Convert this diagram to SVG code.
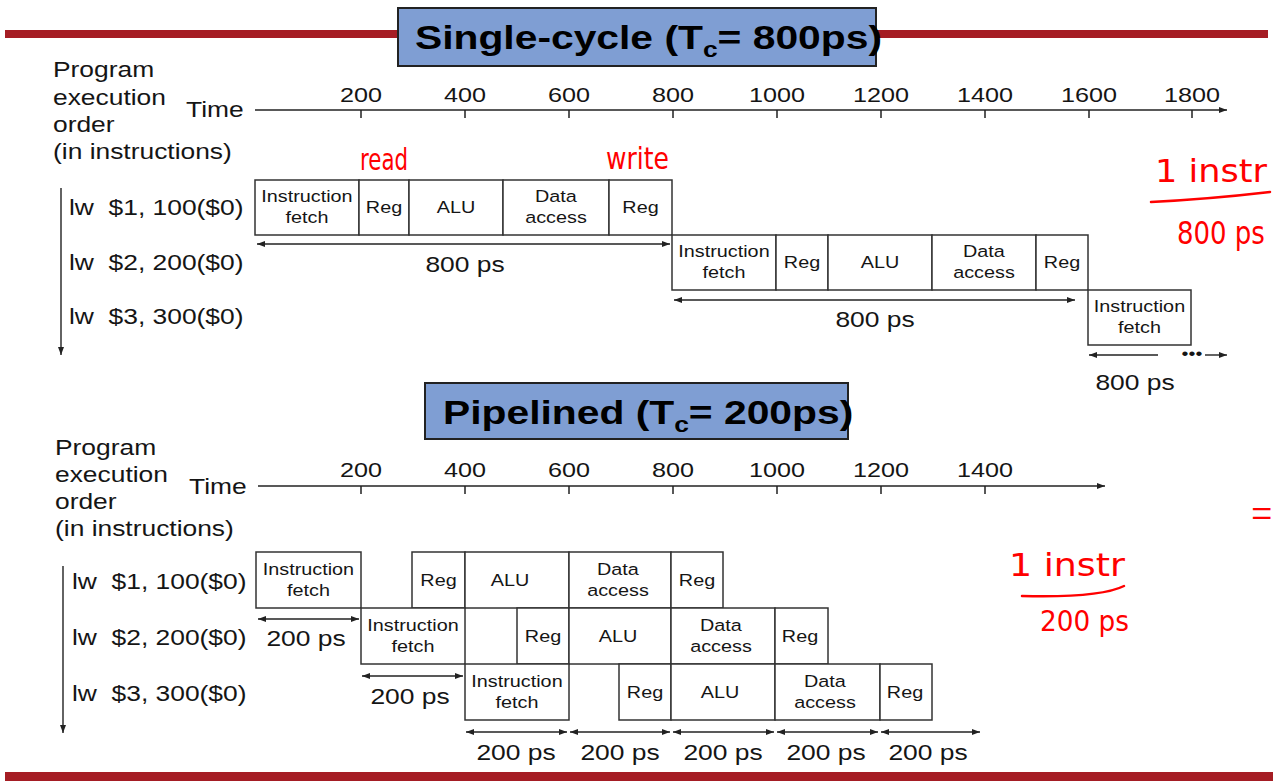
<svg xmlns="http://www.w3.org/2000/svg" width="1273" height="781" viewBox="0 0 1273 781">
<defs>
<marker id="ah" markerUnits="userSpaceOnUse" markerWidth="10" markerHeight="8" refX="8" refY="3.5" orient="auto-start-reverse"><path d="M0,0.5 L8,3.5 L0,6.5 z" fill="#222"/></marker>
<style>
.lbl{font-family:"Liberation Sans",Arial,Helvetica,sans-serif;font-size:22px;fill:#151515;transform-box:fill-box;transform:scaleX(1.2);transform-origin:left center}
.mid{text-anchor:middle;transform-origin:center}
.num{font-family:"Liberation Sans",Arial,Helvetica,sans-serif;font-size:21px;fill:#151515;text-anchor:middle;transform-box:fill-box;transform:scaleX(1.2);transform-origin:center}
.bt{font-family:"Liberation Sans",Arial,Helvetica,sans-serif;font-size:16.5px;fill:#151515;text-anchor:middle;transform-box:fill-box;transform:scaleX(1.2);transform-origin:center}
.ttl{font-family:"Liberation Sans",Arial,Helvetica,sans-serif;font-size:34px;font-weight:bold;fill:#000;transform-box:fill-box;transform:scaleX(1.2);transform-origin:left center}
.box{fill:#fff;stroke:#333;stroke-width:1.5}
.tbox{fill:#7f9ed3;stroke:#222;stroke-width:2}
.bar{fill:#a51d24}
.ax{stroke:#222;stroke-width:1.5;fill:none}
.arr{stroke:#222;stroke-width:1.4;fill:none;marker-end:url(#ah)}
.darr{stroke:#222;stroke-width:1.4;fill:none;marker-start:url(#ah);marker-end:url(#ah)}
.hw{font-family:"DejaVu Sans","Liberation Sans",sans-serif;fill:#f00}
.hl{stroke:#f00;stroke-width:2.5;fill:none;stroke-linecap:round}
</style>
</defs>
<rect width="1273" height="781" fill="#fff"/>

<!-- bars -->
<rect class="bar" x="5" y="30" width="394" height="8"/>
<rect class="bar" x="876" y="30" width="392" height="8"/>
<rect class="bar" x="5" y="772" width="1268" height="9"/>

<!-- titles -->
<g id="title-single">
<rect class="tbox" x="398" y="8" width="478" height="58"/>
<text class="ttl" x="415" y="49">Single-cycle (T<tspan font-size="22" dy="8">c</tspan><tspan dy="-8">= 800ps)</tspan></text>
</g>
<g id="title-pipe">
<rect class="tbox" x="425" y="383" width="423" height="56"/>
<text class="ttl" x="443" y="424">Pipelined (T<tspan font-size="22" dy="8">c</tspan><tspan dy="-8">= 200ps)</tspan></text>
</g>

<!-- top labels -->
<g id="sc-order">
<text class="lbl" x="53" y="77">Program</text>
<text class="lbl" x="53" y="105">execution</text>
<text class="lbl" x="53" y="132">order</text>
<text class="lbl" x="53" y="159">(in instructions)</text>
<text class="lbl" x="186" y="117">Time</text>
</g>
<g id="sc-axis-labels">
<text class="num" x="361" y="102">200</text>
<text class="num" x="465" y="102">400</text>
<text class="num" x="569" y="102">600</text>
<text class="num" x="673" y="102">800</text>
<text class="num" x="777" y="102">1000</text>
<text class="num" x="881" y="102">1200</text>
<text class="num" x="985" y="102">1400</text>
<text class="num" x="1089" y="102">1600</text>
<text class="num" x="1192" y="102">1800</text>
</g>
<g id="sc-instr">
<text class="lbl" x="69" y="215" xml:space="preserve">lw  $1, 100($0)</text>
<text class="lbl" x="69" y="270" xml:space="preserve">lw  $2, 200($0)</text>
<text class="lbl" x="69" y="324" xml:space="preserve">lw  $3, 300($0)</text>
</g>

<!-- top boxes row 1 -->
<g id="sc1-if"><rect class="box" x="255" y="180" width="104" height="55"/><text class="bt" x="307" y="202.5">Instruction</text><text class="bt" x="307" y="223.5">fetch</text></g>
<g id="sc1-reg1"><rect class="box" x="359" y="180" width="50" height="55"/><text class="bt" x="384" y="213.5">Reg</text></g>
<g id="sc1-alu"><rect class="box" x="409" y="180" width="94" height="55"/><text class="bt" x="456" y="213.5">ALU</text></g>
<g id="sc1-da"><rect class="box" x="503" y="180" width="106" height="55"/><text class="bt" x="556" y="202.5">Data</text><text class="bt" x="556" y="223.5">access</text></g>
<g id="sc1-reg2"><rect class="box" x="609" y="180" width="63" height="55"/><text class="bt" x="640.5" y="213.5">Reg</text></g>
<!-- row 2 -->
<g id="sc2-if"><rect class="box" x="672" y="235" width="104" height="55"/><text class="bt" x="724" y="257.5">Instruction</text><text class="bt" x="724" y="278.5">fetch</text></g>
<g id="sc2-reg1"><rect class="box" x="776" y="235" width="52" height="55"/><text class="bt" x="802" y="268.5">Reg</text></g>
<g id="sc2-alu"><rect class="box" x="828" y="235" width="104" height="55"/><text class="bt" x="880" y="268.5">ALU</text></g>
<g id="sc2-da"><rect class="box" x="932" y="235" width="104" height="55"/><text class="bt" x="984" y="257.5">Data</text><text class="bt" x="984" y="278.5">access</text></g>
<g id="sc2-reg2"><rect class="box" x="1036" y="235" width="52" height="55"/><text class="bt" x="1062" y="268.5">Reg</text></g>
<!-- row 3 -->
<g id="sc3-if"><rect class="box" x="1088" y="290" width="103" height="55"/><text class="bt" x="1139.5" y="312.5">Instruction</text><text class="bt" x="1139.5" y="333.5">fetch</text></g>

<g id="sc-dur">
<text class="lbl mid" x="465" y="272">800 ps</text>
<text class="lbl mid" x="875" y="327">800 ps</text>
<text class="lbl mid" x="1135" y="390">800 ps</text>
<text class="bt" x="1192" y="359" font-size="11">•••</text>
</g>

<!-- pipelined labels -->
<g id="pl-order">
<text class="lbl" x="55" y="455">Program</text>
<text class="lbl" x="55" y="482">execution</text>
<text class="lbl" x="55" y="509">order</text>
<text class="lbl" x="55" y="536">(in instructions)</text>
<text class="lbl" x="189" y="494">Time</text>
</g>
<g id="pl-axis-labels">
<text class="num" x="361" y="477">200</text>
<text class="num" x="465" y="477">400</text>
<text class="num" x="569" y="477">600</text>
<text class="num" x="673" y="477">800</text>
<text class="num" x="777" y="477">1000</text>
<text class="num" x="881" y="477">1200</text>
<text class="num" x="985" y="477">1400</text>
</g>
<g id="pl-instr">
<text class="lbl" x="72" y="589" xml:space="preserve">lw  $1, 100($0)</text>
<text class="lbl" x="72" y="645" xml:space="preserve">lw  $2, 200($0)</text>
<text class="lbl" x="72" y="701" xml:space="preserve">lw  $3, 300($0)</text>
</g>

<!-- pipelined row 1 -->
<g id="pl1-if"><rect class="box" x="256" y="552" width="105" height="56"/><text class="bt" x="308.5" y="575">Instruction</text><text class="bt" x="308.5" y="596">fetch</text></g>
<g id="pl1-reg1"><rect class="box" x="412" y="552" width="53" height="56"/><text class="bt" x="438.5" y="586">Reg</text></g>
<g id="pl1-alu"><rect class="box" x="465" y="552" width="104" height="56"/><text class="bt" x="510" y="586">ALU</text></g>
<g id="pl1-da"><rect class="box" x="569" y="552" width="102" height="56"/><text class="bt" x="618" y="575">Data</text><text class="bt" x="618" y="596">access</text></g>
<g id="pl1-reg2"><rect class="box" x="671" y="552" width="52" height="56"/><text class="bt" x="697" y="586">Reg</text></g>
<!-- row 2 -->
<g id="pl2-if"><rect class="box" x="361" y="608" width="104" height="56"/><text class="bt" x="413" y="631">Instruction</text><text class="bt" x="413" y="652">fetch</text></g>
<g id="pl2-reg1"><rect class="box" x="517" y="608" width="52" height="56"/><text class="bt" x="543" y="642">Reg</text></g>
<g id="pl2-alu"><rect class="box" x="569" y="608" width="102" height="56"/><text class="bt" x="618" y="642">ALU</text></g>
<g id="pl2-da"><rect class="box" x="671" y="608" width="104" height="56"/><text class="bt" x="721" y="631">Data</text><text class="bt" x="721" y="652">access</text></g>
<g id="pl2-reg2"><rect class="box" x="775" y="608" width="53" height="56"/><text class="bt" x="800" y="642">Reg</text></g>
<!-- row 3 -->
<g id="pl3-if"><rect class="box" x="465" y="664" width="104" height="56"/><text class="bt" x="517" y="687">Instruction</text><text class="bt" x="517" y="708">fetch</text></g>
<g id="pl3-reg1"><rect class="box" x="619" y="664" width="52" height="56"/><text class="bt" x="645" y="698">Reg</text></g>
<g id="pl3-alu"><rect class="box" x="671" y="664" width="104" height="56"/><text class="bt" x="720" y="698">ALU</text></g>
<g id="pl3-da"><rect class="box" x="775" y="664" width="105" height="56"/><text class="bt" x="825" y="687">Data</text><text class="bt" x="825" y="708">access</text></g>
<g id="pl3-reg2"><rect class="box" x="880" y="664" width="52" height="56"/><text class="bt" x="905" y="698">Reg</text></g>

<g id="pl-dur">
<text class="lbl mid" x="306" y="646">200 ps</text>
<text class="lbl mid" x="410" y="704">200 ps</text>
<text class="lbl mid" x="516" y="760">200 ps</text>
<text class="lbl mid" x="620" y="760">200 ps</text>
<text class="lbl mid" x="723" y="760">200 ps</text>
<text class="lbl mid" x="826" y="760">200 ps</text>
<text class="lbl mid" x="928" y="760">200 ps</text>
</g>

<!-- connectors -->
<g id="connectors">
<line class="arr" x1="255" y1="110" x2="1227" y2="110"/>
<path class="ax" d="M361,110v8M465,110v8M569,110v8M673,110v8M777,110v8M881,110v8M985,110v8M1089,110v8M1192,110v8"/>
<line class="arr" x1="61" y1="188" x2="61" y2="355"/>
<line class="darr" x1="257" y1="244" x2="670" y2="244"/>
<line class="darr" x1="674" y1="300" x2="1075" y2="300"/>
<line class="arr" x1="1158" y1="355" x2="1089" y2="355"/>
<line class="arr" x1="1205" y1="355" x2="1227" y2="355"/>

<line class="arr" x1="258" y1="486" x2="1105" y2="486"/>
<path class="ax" d="M361,486v8M465,486v8M569,486v8M673,486v8M777,486v8M881,486v8M985,486v8"/>
<line class="arr" x1="63" y1="566" x2="63" y2="733"/>
<line class="darr" x1="258" y1="619" x2="359" y2="619"/>
<line class="darr" x1="362" y1="676" x2="463" y2="676"/>
<line class="darr" x1="466" y1="732" x2="567" y2="732"/>
<line class="darr" x1="570" y1="732" x2="670" y2="732"/>
<line class="darr" x1="673" y1="732" x2="774" y2="732"/>
<line class="darr" x1="777" y1="732" x2="878" y2="732"/>
<line class="darr" x1="881" y1="732" x2="980" y2="732"/>
</g>

<!-- handwritten annotations -->
<g id="notes">
<text class="hw" x="360" y="170" font-size="30" textLength="48" lengthAdjust="spacingAndGlyphs">read</text>
<text class="hw" x="606" y="169" font-size="30" textLength="63" lengthAdjust="spacingAndGlyphs">write</text>
<text class="hw" x="1155" y="182" font-size="32" textLength="112" lengthAdjust="spacingAndGlyphs">1 instr</text>
<path class="hl" d="M1151,202 Q1210,199 1270,192"/>
<text class="hw" transform="translate(1177,244) scale(1,1.25)" font-size="26">800 ps</text>
<text class="hw" transform="translate(1250,531) scale(0.7,1.4)" font-size="40" font-weight="200">=</text>
<text class="hw" x="1009" y="576" font-size="32" textLength="116" lengthAdjust="spacingAndGlyphs">1 instr</text>
<path class="hl" d="M1022,596 Q1100,598 1124,586"/>
<text class="hw" x="1040" y="631" font-size="28" textLength="89" lengthAdjust="spacingAndGlyphs">200 ps</text>
</g>
</svg>
